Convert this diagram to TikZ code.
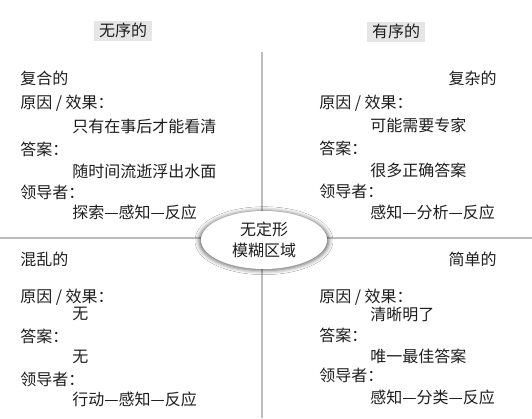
\documentclass[tikz,border=0pt]{standalone}
\usepackage{fontspec}
\setmainfont{Noto Sans CJK SC}
\usetikzlibrary{shapes.geometric,shadows.blur}
\definecolor{txt}{HTML}{1E1E1E}
\definecolor{linec}{HTML}{BDBDBD}
\definecolor{hdrbg}{HTML}{E6E6E6}
\tikzset{
  t/.style={anchor=west,inner sep=0pt,text height=0.88em,text depth=0.12em,font=\fontsize{12pt}{14pt}\selectfont,text=txt},
  tr/.style={t,anchor=east},
  hdr/.style={t,anchor=center,fill=hdrbg,inner xsep=3.5pt,inner ysep=2.5pt},
  divider/.style={line width=2.2pt,draw=linec},
  blob/.style={ellipse,fill=white,draw=none,minimum width=126*0.75pt,minimum height=58*0.75pt,inner sep=0pt,align=center,font=\fontsize{12pt}{16pt}\selectfont,text=txt,blur shadow={shadow xshift=0pt,shadow yshift=-0.5pt,shadow scale=1.03,shadow blur radius=3pt,shadow opacity=60}}
}
\begin{document}
\begin{tikzpicture}[x=0.75pt,y=-0.75pt]
\useasboundingbox[fill=white] (0,0) rectangle (532,418);
% dividers
\coordinate (vtop) at (262,52);
\coordinate (vbot) at (262,418);
\coordinate (hl) at (0,238);
\coordinate (hr) at (532,238);
\draw[divider] (vtop) -- (vbot);
\draw[divider] (hl) -- (hr);
% headers
\node[hdr] (h1) at (123,31) {无序的};
\node[hdr] (h2) at (396,32) {有序的};
% top-left
\node[t] (a0) at (20,79) {复合的};
\node[t] (a1) at (20,103) {原因 / 效果：};
\node[t] (a2) at (72,127) {只有在事后才能看清};
\node[t] (a3) at (20,150) {答案：};
\node[t] (a4) at (72,172) {随时间流逝浮出水面};
\node[t] (a5) at (20,193) {领导者：};
\node[t] (a6) at (72,213) {探索—感知—反应};
% top-right
\node[tr] (b0) at (497,79) {复杂的};
\node[t] (b1) at (319,103) {原因 / 效果：};
\node[t] (b2) at (370,126) {可能需要专家};
\node[t] (b3) at (319,149) {答案：};
\node[t] (b4) at (370,171) {很多正确答案};
\node[t] (b5) at (319,192) {领导者：};
\node[t] (b6) at (370,213) {感知—分析—反应};
% bottom-left
\node[t] (c0) at (20,260) {混乱的};
\node[t] (c1) at (20,297) {原因 / 效果：};
\node[t] (c2) at (72,314) {无};
\node[t] (c3) at (20,337) {答案：};
\node[t] (c4) at (72,357) {无};
\node[t] (c5) at (20,380) {领导者：};
\node[t] (c6) at (72,400) {行动—感知—反应};
% bottom-right
\node[tr] (d0) at (497,260) {简单的};
\node[t] (d1) at (319,297) {原因 / 效果：};
\node[t] (d2) at (370,315) {清晰明了};
\node[t] (d3) at (319,336) {答案：};
\node[t] (d4) at (370,357) {唯一最佳答案};
\node[t] (d5) at (319,376) {领导者：};
\node[t] (d6) at (370,398) {感知—分类—反应};
% center
\node[blob] (c) at (264,240) {无定形\\模糊区域};
\end{tikzpicture}
\end{document}
